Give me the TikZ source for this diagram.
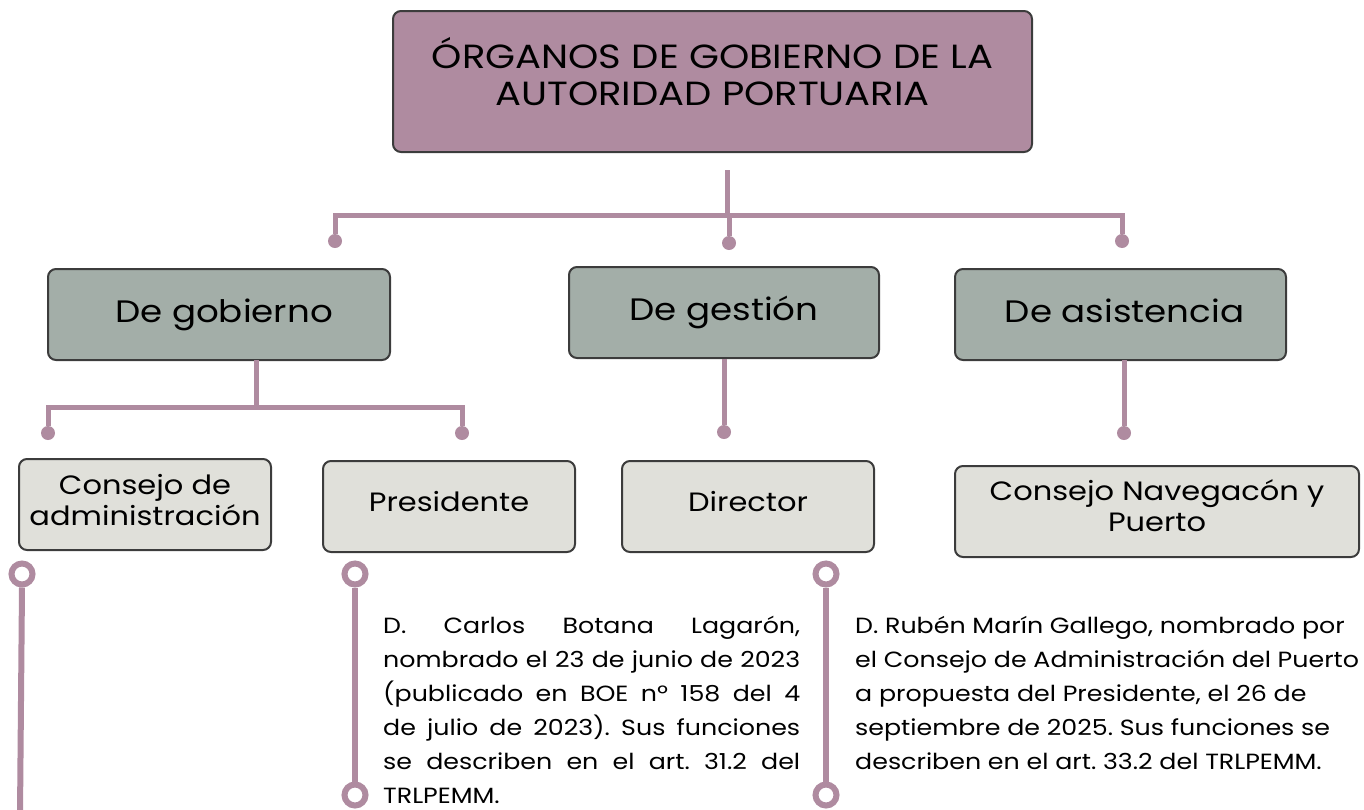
\documentclass[tikz,border=0pt]{standalone}
\usepackage{fontspec}
\setmainfont{Poppins}[FakeStretch=1.15]
\usetikzlibrary{positioning}

\definecolor{malva}{HTML}{AF8BA0}
\definecolor{salvia}{HTML}{A3AEA8}
\definecolor{hueso}{HTML}{E0E0DA}
\definecolor{borde}{HTML}{3C3C3C}

\tikzset{
  caja/.style={draw=borde, line width=2pt, rounded corners=8pt, inner sep=0pt, align=center},
  grande/.style={font=\fontsize{31}{38}\selectfont, text height=23pt, text depth=8pt},
  mediana/.style={font=\fontsize{26.5}{31}\selectfont, text height=19.6pt, text depth=10pt},
  rama/.style={draw=malva, line width=5pt},
  tallo/.style={draw=malva, line width=6pt},
  punto/.style={circle, fill=malva, minimum size=14pt, inner sep=0pt},
  anillo/.style={circle, draw=malva, line width=6pt, fill=white, minimum size=21pt, inner sep=0pt},
}

\begin{document}
\frenchspacing
\begin{tikzpicture}[x=1pt,y=-1pt]
      \useasboundingbox (0,0) rectangle (1364,809);

      %%%%%%%%%%%%%%%%%%%%%%%%%%%%%%%%%%%%%%%%%%%%%%%%%%%%%%%%%%%%%%%%%%%%%%%%%%%
      %%%%  Cajas
      \node[caja, fill=malva, minimum width=639pt, minimum height=141pt,
            font=\fontsize{33.5}{37}\selectfont] (organos) at (712.5,81.5)
        {\begin{tabular}{@{}c@{}}ÓRGANOS DE GOBIERNO DE LA\\AUTORIDAD PORTUARIA\\[8pt]\end{tabular}};

      \node[caja, grande, fill=salvia, minimum width=342pt, minimum height=91pt] (gobierno)
        at (219,314.5) {\hspace*{10pt}De gobierno};
      \node[caja, grande, fill=salvia, minimum width=310pt, minimum height=91pt] (gestion)
        at (724,312.5) {De gestión};
      \node[caja, grande, fill=salvia, minimum width=331pt, minimum height=91pt] (asistencia)
        at (1120.5,314.5) {\hspace*{8pt}De asistencia};

      \node[caja, fill=hueso, minimum width=252pt, minimum height=91pt,
            font=\fontsize{26.5}{31}\selectfont] (consejo) at (145,504.5)
        {\begin{tabular}{@{}c@{}}Consejo de\\administración\\[2pt]\end{tabular}};
      \node[caja, mediana, fill=hueso, minimum width=252pt, minimum height=91pt] (presidente)
        at (449,506.5) {Presidente};
      \node[caja, mediana, fill=hueso, minimum width=252pt, minimum height=91pt] (director)
        at (748,506.5) {Director};
      \node[caja, fill=hueso, minimum width=404pt, minimum height=91pt,
            font=\fontsize{26.5}{31}\selectfont] (navegacion) at (1157,511.5)
        {\begin{tabular}{@{}c@{}}Consejo Navegacón y\\Puerto\\[4pt]\end{tabular}};

      %%%%%%%%%%%%%%%%%%%%%%%%%%%%%%%%%%%%%%%%%%%%%%%%%%%%%%%%%%%%%%%%%%%%%%%%%%%
      %%%%  Ramas
      \foreach \n/\x/\y in {p1/335/241, p2/729/243, p3/1122/241,
                            q1/48/433, q2/462/433, q3/724/432, q4/1124/433}
        {\node[punto] (\n) at (\x,\y) {};}

      \coordinate (arriba) at (727,170);
      \coordinate (bus) at (727,215);
      \draw[rama] (arriba) -- (bus) -| (p1);
      \draw[rama] (bus) -| (p3);
      \draw[rama] (bus) -| (p2);

      \coordinate (bajo) at (256,360);
      \coordinate (bus2) at (256,407);
      \draw[rama] (bajo) -- (bus2) -| (q1);
      \draw[rama] (bus2) -| (q2);
      \draw[rama] (gestion.south) -- (q3);
      \draw[rama] (1124,360) -- (q4);

      %%%%%%%%%%%%%%%%%%%%%%%%%%%%%%%%%%%%%%%%%%%%%%%%%%%%%%%%%%%%%%%%%%%%%%%%%%%
      %%%%  Anillos y textos
      \node[anillo] (r0) at (22,574) {};
      \node[anillo] (r1) at (355,574) {};
      \node[anillo] (r2) at (355,795) {};
      \node[anillo] (r3) at (826,574) {};
      \node[anillo] (r4) at (826,795) {};
      \coordinate (fin) at (20,815);

      \draw[tallo] (r0.south) -- (fin);
      \draw[tallo] (r1.south) -- (r2.north);
      \draw[tallo] (r3.south) -- (r4.north);

      \node[anchor=north west, inner sep=0pt, text width=417pt, align=justify,
            font=\fontsize{22}{34}\selectfont] (nota1) at (383,616)
        {D. Carlos Botana Lagarón,\linebreak nombrado el 23 de junio de 2023\linebreak
         (publicado en BOE nº 158 del 4\linebreak de julio de 2023). Sus funciones\linebreak
         se describen en el art. 31.2 del\linebreak TRLPEMM.};
      \node[anchor=north west, inner sep=0pt, align=left,
            font=\fontsize{22}{34}\selectfont] (nota2) at (855,616)
        {D. Rubén Marín Gallego, nombrado por\\el Consejo de Administración del Puerto\\
         a propuesta del Presidente, el 26 de\\septiembre de 2025. Sus funciones se\\
         describen en el art. 33.2 del TRLPEMM.};
\end{tikzpicture}
\end{document}
